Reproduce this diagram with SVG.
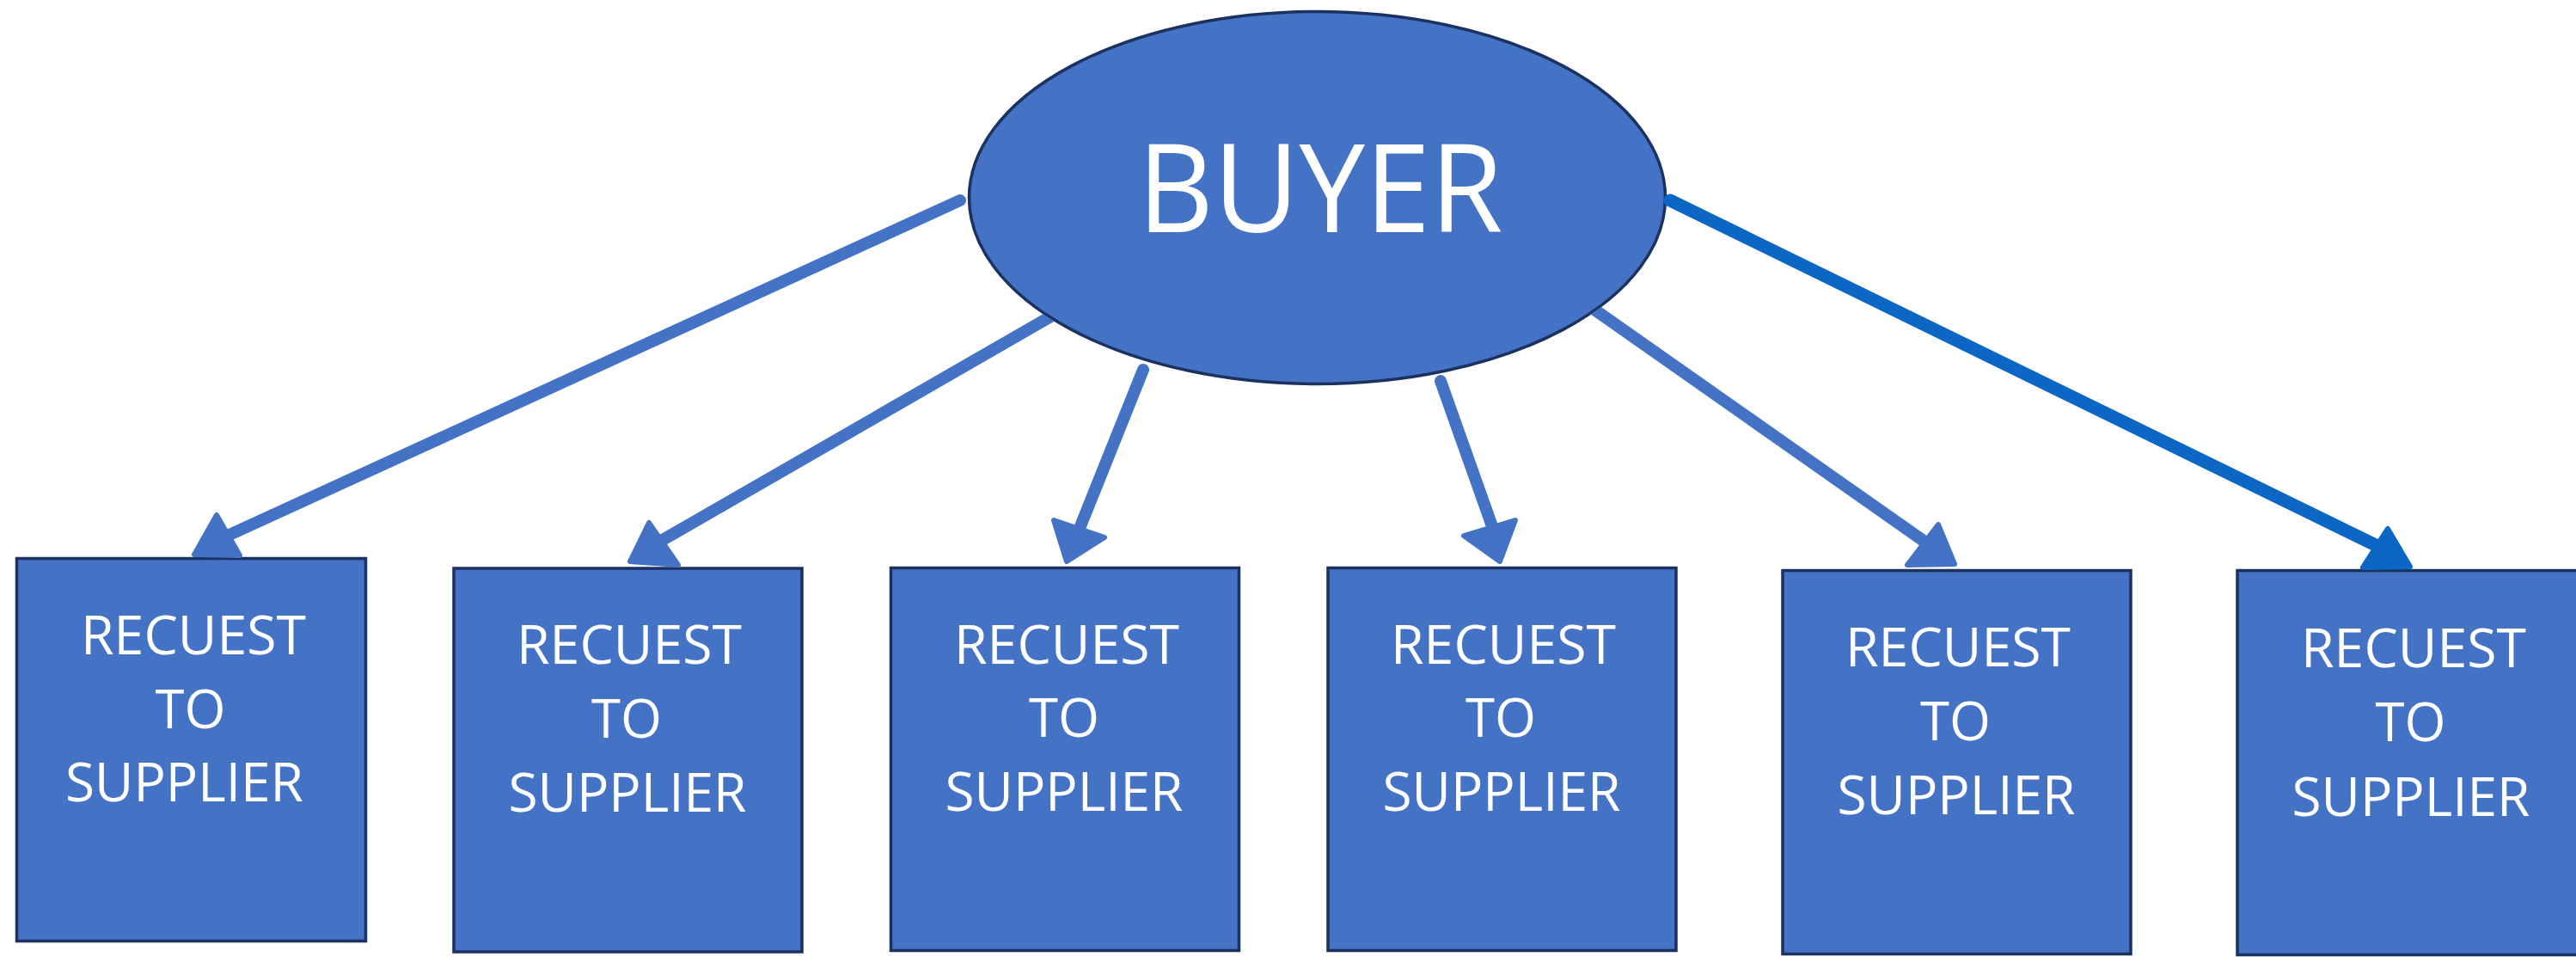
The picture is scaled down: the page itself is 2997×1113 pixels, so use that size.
<svg xmlns="http://www.w3.org/2000/svg" width="2997" height="1113" viewBox="0 0 2997 1113">
<defs>
<clipPath id="outsideBuyer">
<path clip-rule="evenodd" d="M0,0H2997V1113H0Z M1126,230 a406.5,218 0 1,0 813,0 a406.5,218 0 1,0 -813,0Z"/>
</clipPath>
<style>
.node{fill:#4472C4;stroke:#1B3160;stroke-width:3.5}
.lbl{font-family:"Open Sans","Liberation Sans",sans-serif;fill:#FFFFFF;font-size:63px;text-anchor:middle}
.big{font-family:"Open Sans","Liberation Sans",sans-serif;fill:#FFFFFF;font-size:143px;text-anchor:middle}
.ln{fill:none;stroke:#4472C4;stroke-width:14;stroke-linecap:round}
.hd{fill:#4472C4;stroke:#4472C4;stroke-width:6;stroke-linejoin:round}
.ln6{fill:none;stroke:#0C66C3;stroke-width:15;stroke-linecap:round}
.hd6{fill:#0C66C3;stroke:#0C66C3;stroke-width:6;stroke-linejoin:round}
</style>
</defs>
<rect width="2997" height="1113" fill="#FFFFFF"/>
<g id="buyer">
<ellipse class="node" cx="1532.5" cy="230" rx="405" ry="216.5"/>
<text class="big" x="1536" y="270" textLength="425" lengthAdjust="spacingAndGlyphs">BUYER</text>
</g>
<g id="supplier1">
<rect class="node" x="19.5" y="649.5" width="406" height="445"/>
<text class="lbl" x="225" y="761" textLength="262" lengthAdjust="spacingAndGlyphs">RECUEST</text>
<text class="lbl" x="221.5" y="846.5" textLength="82" lengthAdjust="spacingAndGlyphs">TO</text>
<text class="lbl" x="214.5" y="932" textLength="277" lengthAdjust="spacingAndGlyphs">SUPPLIER</text>
</g>
<g id="supplier2">
<rect class="node" x="528" y="661" width="405" height="446"/>
<text class="lbl" x="732" y="771.5" textLength="262" lengthAdjust="spacingAndGlyphs">RECUEST</text>
<text class="lbl" x="729" y="857.5" textLength="82" lengthAdjust="spacingAndGlyphs">TO</text>
<text class="lbl" x="730" y="943.5" textLength="277" lengthAdjust="spacingAndGlyphs">SUPPLIER</text>
</g>
<g id="supplier3">
<rect class="node" x="1036.5" y="660.5" width="405" height="445"/>
<text class="lbl" x="1241" y="771.5" textLength="262" lengthAdjust="spacingAndGlyphs">RECUEST</text>
<text class="lbl" x="1238" y="857" textLength="82" lengthAdjust="spacingAndGlyphs">TO</text>
<text class="lbl" x="1238" y="943" textLength="277" lengthAdjust="spacingAndGlyphs">SUPPLIER</text>
</g>
<g id="supplier4">
<rect class="node" x="1545" y="660.5" width="405" height="445"/>
<text class="lbl" x="1749" y="771.5" textLength="262" lengthAdjust="spacingAndGlyphs">RECUEST</text>
<text class="lbl" x="1746" y="857" textLength="82" lengthAdjust="spacingAndGlyphs">TO</text>
<text class="lbl" x="1747" y="943" textLength="277" lengthAdjust="spacingAndGlyphs">SUPPLIER</text>
</g>
<g id="supplier5">
<rect class="node" x="2074" y="663.5" width="405" height="446"/>
<text class="lbl" x="2278" y="775" textLength="262" lengthAdjust="spacingAndGlyphs">RECUEST</text>
<text class="lbl" x="2275" y="861" textLength="82" lengthAdjust="spacingAndGlyphs">TO</text>
<text class="lbl" x="2276" y="947" textLength="277" lengthAdjust="spacingAndGlyphs">SUPPLIER</text>
</g>
<g id="supplier6">
<rect class="node" x="2603" y="663.5" width="420" height="447"/>
<text class="lbl" x="2808" y="776" textLength="262" lengthAdjust="spacingAndGlyphs">RECUEST</text>
<text class="lbl" x="2804.5" y="862" textLength="82" lengthAdjust="spacingAndGlyphs">TO</text>
<text class="lbl" x="2805" y="949" textLength="277" lengthAdjust="spacingAndGlyphs">SUPPLIER</text>
</g>
<g id="connectors">
<line class="ln" x1="1117" y1="233" x2="256" y2="627"/>
<polygon class="hd" points="252,599 226,645 279,646"/>
<line class="ln" x1="1240" y1="358" x2="764" y2="632" clip-path="url(#outsideBuyer)" style="stroke-linecap:butt"/>
<polygon class="hd" points="755,608 733,653 789,657"/>
<line class="ln" x1="1330" y1="430" x2="1257" y2="612"/>
<polygon class="hd" points="1241,653 1226,605 1285,625"/>
<line class="ln" x1="1676" y1="443" x2="1736" y2="612"/>
<polygon class="hd" points="1745,653 1703,623 1763,605"/>
<line class="ln" x1="1845" y1="353" x2="2245" y2="634" clip-path="url(#outsideBuyer)" style="stroke-linecap:butt"/>
<polygon class="hd" points="2255,610 2219,657 2274,656"/>
<line class="ln6" x1="1943" y1="233" x2="2770" y2="637"/>
<polygon class="hd6" points="2778,615 2749,660 2804,659"/>
</g>
</svg>
